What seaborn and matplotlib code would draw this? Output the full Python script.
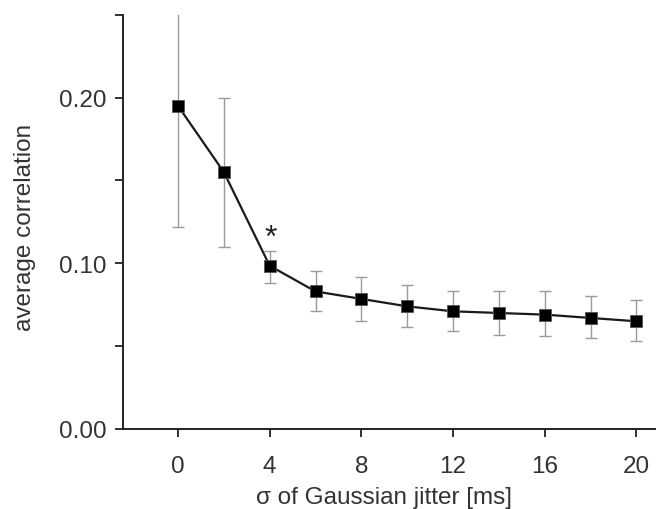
import matplotlib
matplotlib.use("Agg")
import matplotlib.pyplot as plt
import seaborn as sns
import numpy as np
import pandas as pd

jitter = [0, 2, 4, 6, 8, 10, 12, 14, 16, 18, 20]
corr = [0.195, 0.155, 0.0985, 0.083, 0.0785, 0.074, 0.071, 0.070, 0.069, 0.067, 0.065]
err_hi = [0.280, 0.200, 0.1076, 0.0955, 0.092, 0.087, 0.083, 0.083, 0.083, 0.080, 0.078]
err_lo = [0.122, 0.110, 0.088, 0.071, 0.065, 0.0616, 0.059, 0.057, 0.056, 0.055, 0.053]
x_ticks = [0, 4, 8, 12, 16, 20]
y_ticks = [0.00, 0.05, 0.10, 0.15, 0.20, 0.25]
y_labels = ["0.00", "", "0.10", "", "0.20", ""]

sns.set_theme(style="ticks")
plt.rcParams['font.family'] = ['Liberation Sans', 'DejaVu Sans']

df = pd.DataFrame({"jitter": jitter, "corr": corr})

fig = plt.figure(figsize=(6.58, 5.10), dpi=100)
ax = fig.add_axes([0.187, 0.157, 0.808, 0.812])

c = np.array(corr)
lo = c - np.array(err_lo)
hi = np.array(err_hi) - c
ax.errorbar(jitter, corr, yerr=[lo, hi], fmt="none", ecolor="#9a9a9a",
            elinewidth=1.0, capsize=4, capthick=1.0, zorder=1)
sns.lineplot(data=df, x="jitter", y="corr", ax=ax, color="#1a1a1a", linewidth=1.6,
             marker="s", markersize=8, markerfacecolor="black",
             markeredgecolor="#555555", markeredgewidth=0.6, zorder=3)

ax.text(4.05, 0.1155, "*", ha="center", va="center", fontsize=23, color="#222222")

ax.set_xlim(-2.4, 20.8)
ax.set_ylim(0, 0.25)
ax.set_xticks(x_ticks)
ax.set_yticks(y_ticks)
ax.set_yticklabels(y_labels)
ax.tick_params(axis="both", direction="out", length=6, width=1.3, labelsize=17.5,
               colors="#222222", labelcolor="#333333", pad=6)
ax.tick_params(axis="x", pad=13)
for s in ["top", "right"]:
    ax.spines[s].set_visible(False)
for s in ["left", "bottom"]:
    ax.spines[s].set_linewidth(1.4)
    ax.spines[s].set_color("#222222")

ax.set_xlabel("σ of Gaussian jitter [ms]", fontsize=17.5, color="#333333")
ax.set_ylabel("average correlation", fontsize=17.5, color="#333333")
ax.yaxis.set_label_coords(-0.163, 0.488)
ax.xaxis.set_label_coords(0.49, -0.137)

fig.savefig("out.png", dpi=100)
